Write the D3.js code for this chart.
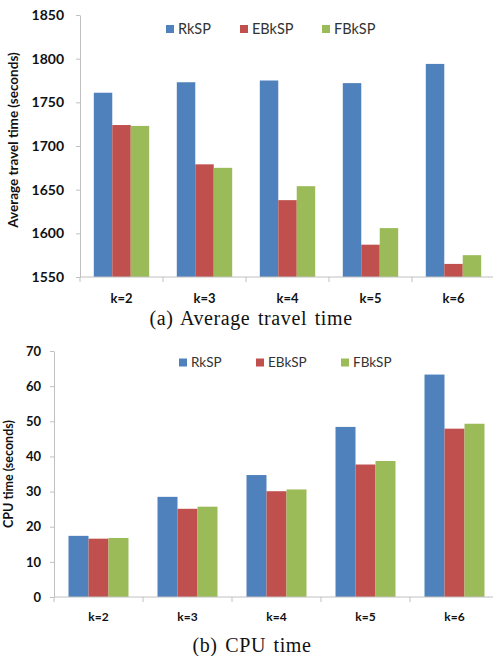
<!DOCTYPE html>
<html>
<head>
<meta charset="utf-8">
<script src="https://cdn.jsdelivr.net/npm/d3@7"></script>
<style>
  body { margin: 0; background: #fff; }
  svg { display: block; }
</style>
</head>
<body>
<svg id="chart" width="493" height="656"></svg>
<script>
const categories = ["k=2", "k=3", "k=4", "k=5", "k=6"];
const seriesNames = ["RkSP", "EBkSP", "FBkSP"];
const seriesColors = ["#4F81BD", "#C0504D", "#9BBB59"];

// (a) Average travel time (seconds)
const travelRkSP  = [1761, 1773, 1775, 1772, 1794];
const travelEBkSP = [1724, 1679, 1638, 1587, 1565];
const travelFBkSP = [1723, 1675, 1654, 1606, 1575];
const travelTicks = [1550, 1600, 1650, 1700, 1750, 1800, 1850];

// (b) CPU time (seconds)
const cpuRkSP  = [17.4, 28.5, 34.7, 48.4, 63.3];
const cpuEBkSP = [16.6, 25.1, 30.1, 37.7, 47.9];
const cpuFBkSP = [16.8, 25.7, 30.6, 38.7, 49.3];
const cpuTicks = [0, 10, 20, 30, 40, 50, 60, 70];

const svg = d3.select("#chart");
const axisColor = "#c0c0c0";
const sansFont = "Lato, 'Open Sans', sans-serif";
const serifFont = "'Liberation Serif', 'DejaVu Serif', serif";

function drawChart(cfg) {
  const g = svg.append("g");
  const x0 = d3.scaleBand().domain(categories).range([cfg.left, cfg.right]);
  const step = x0.bandwidth();
  const x1 = d3.scaleBand().domain(seriesNames)
    .range([cfg.groupPad, step - cfg.groupPad]);
  const y = d3.scaleLinear().domain(cfg.domain).range([cfg.bottom, cfg.top]);

  const data = categories.map((c, i) => ({
    cat: c,
    vals: seriesNames.map((s, j) => ({ s, v: cfg.series[j][i], color: seriesColors[j] }))
  }));

  // bars
  g.selectAll("g.grp").data(data).join("g")
    .attr("class", "grp")
    .attr("transform", d => `translate(${x0(d.cat)},0)`)
    .selectAll("rect").data(d => d.vals).join("rect")
    .attr("x", d => x1(d.s))
    .attr("width", x1.bandwidth())
    .attr("y", d => y(d.v))
    .attr("height", d => cfg.bottom - y(d.v))
    .attr("fill", d => d.color);

  // y axis
  const yAxis = d3.axisLeft(y).tickValues(cfg.ticks).tickFormat(d3.format("d"))
    .tickSize(4).tickPadding(cfg.tickPad).tickSizeOuter(0);
  const ya = g.append("g").attr("transform", `translate(${cfg.left},0)`).call(yAxis);
  ya.select(".domain").attr("stroke", axisColor);
  ya.selectAll(".tick line").attr("stroke", axisColor);
  ya.selectAll(".tick text")
    .attr("font-family", sansFont).attr("font-weight", "bold")
    .attr("font-size", cfg.tickFont).attr("fill", "#111");

  // x axis (ticks at category boundaries)
  const xa = g.append("g").attr("transform", `translate(0,${cfg.bottom})`);
  xa.append("line").attr("x1", cfg.left).attr("x2", 493)
    .attr("stroke", axisColor);
  const bounds = categories.map(c => x0(c)).concat([x0(categories[categories.length - 1]) + step]);
  xa.selectAll("line.tk").data(bounds).join("line").attr("class", "tk")
    .attr("x1", d => d).attr("x2", d => d).attr("y1", 0).attr("y2", 5)
    .attr("stroke", axisColor);
  xa.selectAll("text").data(categories).join("text")
    .attr("x", d => x0(d) + step / 2)
    .attr("y", cfg.catDy)
    .attr("text-anchor", "middle")
    .attr("font-family", sansFont).attr("font-weight", "bold")
    .attr("font-size", cfg.catFont).attr("fill", "#111")
    .text(d => d);

  // y title
  g.append("text")
    .attr("transform", `translate(${cfg.titleX},${cfg.titleY}) rotate(-90)`)
    .attr("text-anchor", "middle")
    .attr("font-family", sansFont).attr("font-weight", "bold")
    .attr("font-size", cfg.titleFont).attr("fill", "#111")
    .text(cfg.yTitle);

  // legend
  const lg = g.append("g");
  seriesNames.forEach((s, j) => {
    lg.append("rect").attr("x", cfg.legendX[j]).attr("y", cfg.legendY - 4)
      .attr("width", 8).attr("height", 8).attr("fill", seriesColors[j]);
    lg.append("text").attr("x", cfg.legendX[j] + 12).attr("y", cfg.legendY)
      .attr("dy", "0.35em")
      .attr("font-family", sansFont).attr("font-size", cfg.legendFont)
      .attr("fill", "#333").text(s);
  });

  // caption
  svg.append("text").attr("x", cfg.capX).attr("y", cfg.capY)
    .attr("text-anchor", "middle")
    .attr("font-family", serifFont).attr("font-size", cfg.capFont)
    .attr("letter-spacing", "0.6px").attr("word-spacing", "2px")
    .attr("fill", "#111").text(cfg.caption);
}

drawChart({
  left: 80, right: 495, top: 15, bottom: 277,
  domain: [1550, 1850], ticks: travelTicks,
  series: [travelRkSP, travelEBkSP, travelFBkSP],
  groupPad: 13.8, tickFont: 14, tickPad: 12,
  catFont: 13, catDy: 26,
  titleX: 18, titleY: 140, titleFont: 13.5,
  yTitle: "Average travel time (seconds)",
  legendX: [166, 240, 322], legendY: 29, legendFont: 14.5,
  caption: "(a) Average travel time", capX: 251, capY: 325, capFont: 20
});

drawChart({
  left: 54, right: 499, top: 351, bottom: 597,
  domain: [0, 70], ticks: cpuTicks,
  series: [cpuRkSP, cpuEBkSP, cpuFBkSP],
  groupPad: 14.5, tickFont: 13, tickPad: 9,
  catFont: 12, catDy: 24,
  titleX: 13, titleY: 474, titleFont: 12.5,
  yTitle: "CPU time (seconds)",
  legendX: [179, 256, 341], legendY: 362.5, legendFont: 13.5,
  caption: "(b) CPU time", capX: 252, capY: 652, capFont: 20
});
</script>
</body>
</html>
